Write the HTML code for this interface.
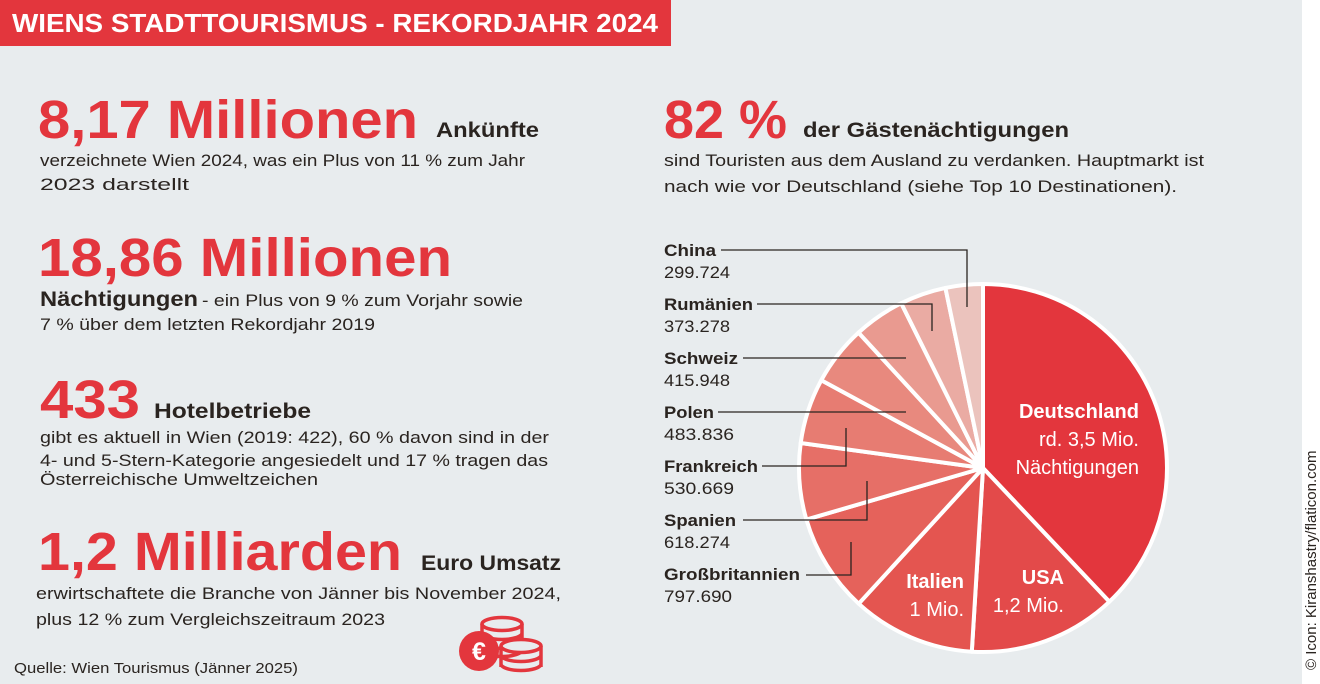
<!DOCTYPE html>
<html><head><meta charset="utf-8"><style>
html,body{margin:0;padding:0;background:#e8ecee;}
svg{display:block;font-family:"Liberation Sans",sans-serif;}
</style></head><body>
<svg width="1320" height="684" viewBox="0 0 1320 684" xmlns="http://www.w3.org/2000/svg">
<rect width="1320" height="684" fill="#e8ecee"/>
<rect x="1302" y="0" width="18" height="684" fill="#ffffff"/>
<text transform="translate(1316,670) rotate(-90)" font-size="15" fill="#2a2420">© Icon: Kiranshastry/flaticon.com</text>
<rect x="0" y="0" width="671" height="46" fill="#e3363d"/>
<text x="12" y="32" font-size="26" font-weight="bold" fill="#fff" textLength="646" lengthAdjust="spacingAndGlyphs">WIENS STADTTOURISMUS - REKORDJAHR 2024</text>

<g fill="#2a2420" font-size="17" lengthAdjust="spacingAndGlyphs">
<text x="38" y="138" font-size="54" font-weight="bold" fill="#e3363d" textLength="380" lengthAdjust="spacingAndGlyphs">8,17 Millionen</text>
<text x="436" y="137" font-size="21" font-weight="bold" textLength="103" lengthAdjust="spacingAndGlyphs">Ankünfte</text>
<text x="40" y="166" textLength="485" lengthAdjust="spacingAndGlyphs">verzeichnete Wien 2024, was ein Plus von 11 % zum Jahr</text>
<text x="40" y="190" textLength="149" lengthAdjust="spacingAndGlyphs">2023 darstellt</text>

<text x="38" y="276" font-size="54" font-weight="bold" fill="#e3363d" textLength="414" lengthAdjust="spacingAndGlyphs">18,86 Millionen</text>
<text x="40" y="306" font-size="21" font-weight="bold" textLength="158" lengthAdjust="spacingAndGlyphs">Nächtigungen</text>
<text x="202" y="306" textLength="321" lengthAdjust="spacingAndGlyphs">- ein Plus von 9 % zum Vorjahr sowie</text>
<text x="40" y="330" textLength="335" lengthAdjust="spacingAndGlyphs">7 % über dem letzten Rekordjahr 2019</text>

<text x="40" y="418" font-size="54" font-weight="bold" fill="#e3363d" textLength="100" lengthAdjust="spacingAndGlyphs">433</text>
<text x="154" y="418" font-size="21" font-weight="bold" textLength="157" lengthAdjust="spacingAndGlyphs">Hotelbetriebe</text>
<text x="40" y="443" textLength="509" lengthAdjust="spacingAndGlyphs">gibt es aktuell in Wien (2019: 422), 60 % davon sind in der</text>
<text x="40" y="466" textLength="508" lengthAdjust="spacingAndGlyphs">4- und 5-Stern-Kategorie angesiedelt und 17 % tragen das</text>
<text x="40" y="485" textLength="278" lengthAdjust="spacingAndGlyphs">Österreichische Umweltzeichen</text>

<text x="38" y="570" font-size="54" font-weight="bold" fill="#e3363d" textLength="364" lengthAdjust="spacingAndGlyphs">1,2 Milliarden</text>
<text x="421" y="570" font-size="21" font-weight="bold" textLength="140" lengthAdjust="spacingAndGlyphs">Euro Umsatz</text>
<text x="36" y="599" textLength="525" lengthAdjust="spacingAndGlyphs">erwirtschaftete die Branche von Jänner bis November 2024,</text>
<text x="36" y="625" textLength="349" lengthAdjust="spacingAndGlyphs">plus 12 % zum Vergleichszeitraum 2023</text>
<text x="14" y="673" font-size="15" textLength="284" lengthAdjust="spacingAndGlyphs">Quelle: Wien Tourismus (Jänner 2025)</text>

<text x="664" y="138" font-size="54" font-weight="bold" fill="#e3363d" textLength="123" lengthAdjust="spacingAndGlyphs">82 %</text>
<text x="803" y="137" font-size="21" font-weight="bold" textLength="266" lengthAdjust="spacingAndGlyphs">der Gästenächtigungen</text>
<text x="664" y="166" textLength="540" lengthAdjust="spacingAndGlyphs">sind Touristen aus dem Ausland zu verdanken. Hauptmarkt ist</text>
<text x="664" y="192" textLength="513" lengthAdjust="spacingAndGlyphs">nach wie vor Deutschland (siehe Top 10 Destinationen).</text>
</g>

<!-- coins -->
<g fill="none" stroke="#e3363d" stroke-width="3.5">
<ellipse cx="502" cy="624" rx="20" ry="6.5"/>
<path d="M482 624v26M522 624v26M482 633a20 6.5 0 0 0 40 0M482 642a20 6.5 0 0 0 40 0M482 650a20 6.5 0 0 0 40 0"/>
<ellipse cx="521" cy="646" rx="20" ry="6.5" fill="#e8ecee"/>
<path d="M501 646v21M541 646v21M501 655a20 6.5 0 0 0 40 0M501 664a20 6.5 0 0 0 40 0"/>
</g>
<circle cx="479" cy="651" r="20" fill="#e3363d"/>
<text x="479" y="660" font-size="25" font-weight="bold" fill="#fff" text-anchor="middle">€</text>

<!-- pie -->
<g stroke="#fff" stroke-width="4" stroke-linejoin="round">
<path d="M983 468L983 284A184 184 0 0 1 1109.4 601.7Z" fill="#e3363d"/>
<path d="M983 468L1109.4 601.7A184 184 0 0 1 971.8 651.7Z" fill="#e34a4a"/>
<path d="M983 468L971.8 651.7A184 184 0 0 1 858.7 603.7Z" fill="#e45550"/>
<path d="M983 468L858.7 603.7A184 184 0 0 1 806.4 519.6Z" fill="#e5625b"/>
<path d="M983 468L806.4 519.6A184 184 0 0 1 800.7 443Z" fill="#e66f67"/>
<path d="M983 468L800.7 443A184 184 0 0 1 821.3 380.2Z" fill="#e77c72"/>
<path d="M983 468L821.3 380.2A184 184 0 0 1 858.5 332.6Z" fill="#e8897e"/>
<path d="M983 468L858.5 332.6A184 184 0 0 1 901.2 303.2Z" fill="#e99a90"/>
<path d="M983 468L901.2 303.2A184 184 0 0 1 945.4 287.9Z" fill="#eaaba3"/>
<path d="M983 468L945.4 287.9A184 184 0 0 1 983 284Z" fill="#ebc3bd"/>
</g>
<g fill="#fff" font-size="20" text-anchor="end">
<text x="1139" y="418" font-weight="bold">Deutschland</text>
<text x="1139" y="446">rd. 3,5 Mio.</text>
<text x="1139" y="474">Nächtigungen</text>
<text x="1064" y="584" font-weight="bold">USA</text>
<text x="1064" y="612">1,2 Mio.</text>
<text x="964" y="588" font-weight="bold">Italien</text>
<text x="964" y="616">1 Mio.</text>
</g>

<g stroke="#2a2420" stroke-width="1.3" fill="none">
<path d="M721 250H967V307"/>
<path d="M757 304H932V331"/>
<path d="M743 358H906"/>
<path d="M718 412H906"/>
<path d="M762 466H846V428"/>
<path d="M743 520H867V481"/>
<path d="M806 575H851V542"/>
</g>
<g fill="#2a2420" font-size="17">
<text x="664" y="256" font-weight="bold" textLength="52" lengthAdjust="spacingAndGlyphs">China</text><text x="664" y="278" textLength="66" lengthAdjust="spacingAndGlyphs">299.724</text>
<text x="664" y="310" font-weight="bold" textLength="89" lengthAdjust="spacingAndGlyphs">Rumänien</text><text x="664" y="332" textLength="66" lengthAdjust="spacingAndGlyphs">373.278</text>
<text x="664" y="364" font-weight="bold" textLength="74" lengthAdjust="spacingAndGlyphs">Schweiz</text><text x="664" y="386" textLength="66" lengthAdjust="spacingAndGlyphs">415.948</text>
<text x="664" y="418" font-weight="bold" textLength="50" lengthAdjust="spacingAndGlyphs">Polen</text><text x="664" y="440" textLength="70" lengthAdjust="spacingAndGlyphs">483.836</text>
<text x="664" y="472" font-weight="bold" textLength="94" lengthAdjust="spacingAndGlyphs">Frankreich</text><text x="664" y="494" textLength="70" lengthAdjust="spacingAndGlyphs">530.669</text>
<text x="664" y="526" font-weight="bold" textLength="72" lengthAdjust="spacingAndGlyphs">Spanien</text><text x="664" y="548" textLength="66" lengthAdjust="spacingAndGlyphs">618.274</text>
<text x="664" y="580" font-weight="bold" textLength="136" lengthAdjust="spacingAndGlyphs">Großbritannien</text><text x="664" y="602" textLength="68" lengthAdjust="spacingAndGlyphs">797.690</text>
</g>
</svg>
</body></html>
